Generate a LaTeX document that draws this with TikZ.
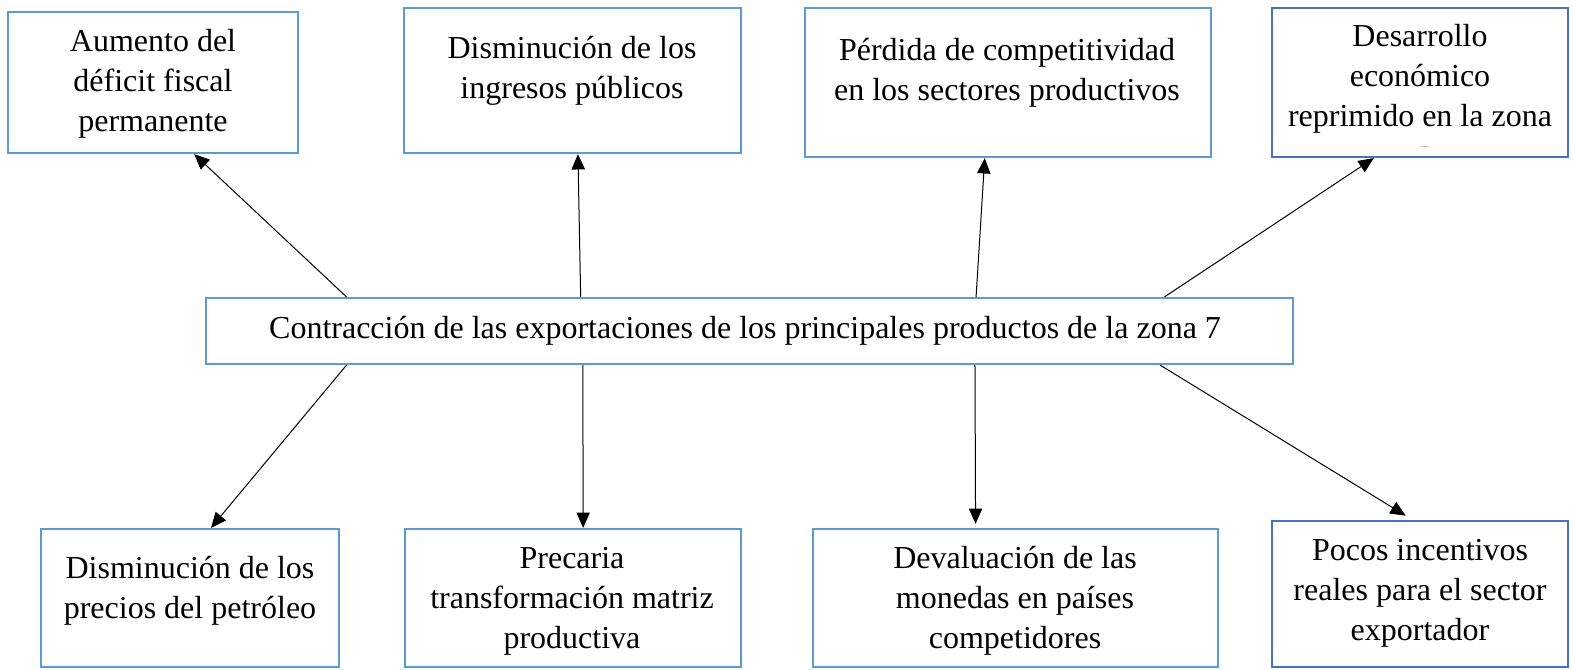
\documentclass[tikz,border=0pt]{standalone}
\usepackage{fontspec}
\setmainfont{Liberation Serif}
\usetikzlibrary{arrows.meta,calc}

\definecolor{azulcaja}{RGB}{91,155,213}
\definecolor{azuloscuro}{RGB}{68,114,196}

\tikzset{every picture/.style={line width=0.75pt}}
\tikzset{
  caja/.style 2 args={draw=azulcaja, line width=1.7pt, inner sep=0pt,
    minimum width={0.75pt*#1}, minimum height={0.75pt*#2}},
  cajaosc/.style 2 args={caja={#1}{#2}, draw=azuloscuro},
  texto/.style={align=center, inner sep=0pt, font=\fontsize{24}{30}\selectfont},
  flecha/.style={-{Triangle[length=11.5pt,width=10pt]}, line width=0.75pt}
}

\begin{document}
\begin{tikzpicture}[x=0.75pt,y=0.75pt,yscale=-1,xscale=1]
\useasboundingbox (0,0) rectangle (1573,670);

%Shape: Rectangle [aumento]
\node[caja={290}{141}] (aumento) at (153,82.5) {};
%Shape: Rectangle [ingresos]
\node[caja={337}{145}] (ingresos) at (572.5,80.5) {};
%Shape: Rectangle [perdida]
\node[caja={406}{149}] (perdida) at (1008,82.5) {};
%Shape: Rectangle [desarrollo]
\node[cajaosc={296}{149}] (desarrollo) at (1420,82.5) {};
%Shape: Rectangle [centro]
\node[caja={1087}{66}] (centro) at (749.5,331) {};
%Shape: Rectangle [petroleo]
\node[caja={298}{138}] (petroleo) at (190,598) {};
%Shape: Rectangle [precaria]
\node[caja={336}{138}] (precaria) at (573,598) {};
%Shape: Rectangle [devaluacion]
\node[caja={405}{138}] (devaluacion) at (1015.5,598) {};
%Shape: Rectangle [incentivos]
\node[cajaosc={296}{146}] (incentivos) at (1420,594) {};

% Text Node
\node[texto] (aumento-t) at (153,84) {Aumento del\\déficit fiscal\\permanente};
% Text Node
\node[texto] (ingresos-t) at (572,71) {Disminución de los\\ingresos públicos};
% Text Node
\node[texto] (perdida-t) at (1007,73) {Pérdida de competitividad\\en los sectores productivos};
% Text Node
\node[texto] (desarrollo-t) at (1420,79) {Desarrollo\\económico\\reprimido en la zona};
\draw[gray!50, line width=0.5pt] (1421,146) -- (1429,146);
% Text Node
\node[texto] (centro-t) at (745,331) {Contracción de las exportaciones de los principales productos de la zona 7};
% Text Node
\node[texto] (petroleo-t) at (190,591) {Disminución de los\\precios del petróleo};
% Text Node
\node[texto] (precaria-t) at (572,601) {Precaria\\transformación matriz\\productiva};
% Text Node
\node[texto] (devaluacion-t) at (1015,601) {Devaluación de las\\monedas en países\\competidores};
% Text Node
\node[texto] (incentivos-t) at (1420,593) {Pocos incentivos\\reales para el sector\\exportador};

% Arrows up
\draw[flecha] ($(centro.north west)!0.130!(centro.north east)$) -- ($(aumento.south west)!0.641!(aumento.south east)$);
\draw[flecha] ($(centro.north west)!0.345!(centro.north east)$) -- ($(ingresos.south west)!0.516!(ingresos.south east)$);
\draw[flecha] ($(centro.north west)!0.708!(centro.north east)$) -- ($(perdida.south west)!0.443!(perdida.south east)$);
\draw[flecha] ($(centro.north west)!0.881!(centro.north east)$) -- ($(desarrollo.south west)!0.345!(desarrollo.south east)$);
% Arrows down
\draw[flecha] ($(centro.south west)!0.130!(centro.south east)$) -- ($(petroleo.north west)!0.570!(petroleo.north east)$);
\draw[flecha] ($(centro.south west)!0.347!(centro.south east)$) -- ($(precaria.north west)!0.530!(precaria.north east)$);
\draw[flecha, shorten >=3pt] ($(centro.south west)!0.707!(centro.south east)$) -- ($(devaluacion.north west)!0.402!(devaluacion.north east)$);
\draw[flecha, shorten >=6pt] ($(centro.south west)!0.877!(centro.south east)$) -- ($(incentivos.north west)!0.475!(incentivos.north east)$);

\end{tikzpicture}
\end{document}
